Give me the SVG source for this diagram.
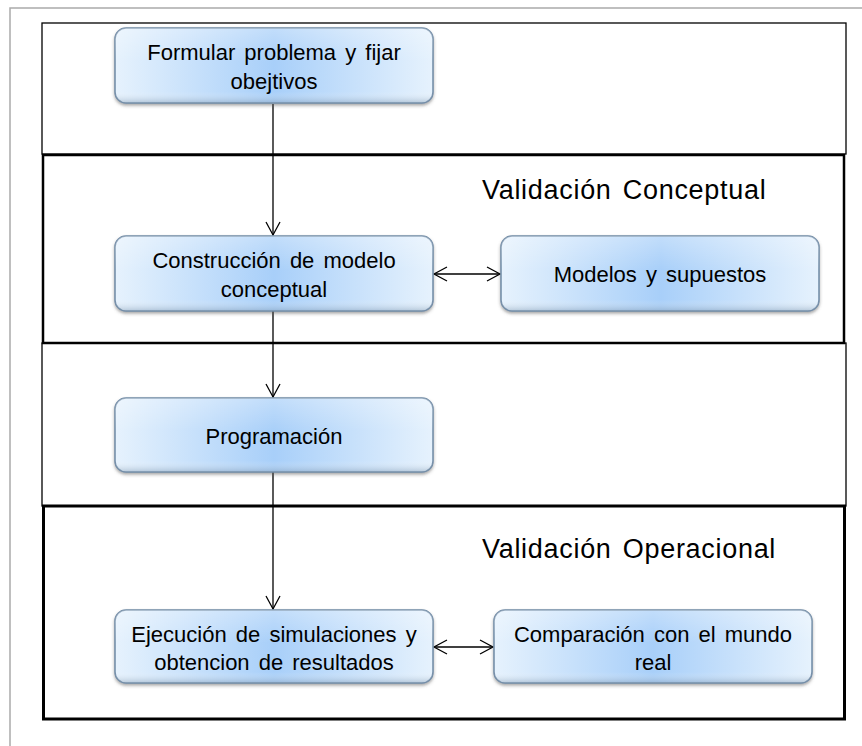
<svg xmlns="http://www.w3.org/2000/svg" width="862" height="746" viewBox="0 0 862 746">
<defs>
<linearGradient id="hg" x1="0" y1="0" x2="1" y2="0">
<stop offset="0" stop-color="#e6f2fd"/>
<stop offset="0.5" stop-color="#a8cff9"/>
<stop offset="1" stop-color="#e6f2fd"/>
</linearGradient>
<linearGradient id="vg" x1="0" y1="0" x2="0" y2="1">
<stop offset="0" stop-color="#ffffff" stop-opacity="0.3"/>
<stop offset="0.45" stop-color="#ffffff" stop-opacity="0"/>
<stop offset="0.85" stop-color="#ffffff" stop-opacity="0"/>
<stop offset="1" stop-color="#7d95ad" stop-opacity="0.45"/>
</linearGradient>
<filter id="sh" x="-5%" y="-10%" width="110%" height="130%">
<feDropShadow dx="0" dy="2" stdDeviation="1.5" flood-color="#555" flood-opacity="0.5"/>
</filter>
<marker id="ah" markerWidth="16" markerHeight="16" refX="14" refY="8" orient="auto-start-reverse" markerUnits="userSpaceOnUse">
<path d="M1,1 L14,8 L1,15" fill="none" stroke="#000" stroke-width="1.3"/>
</marker>
<style>
.frame{fill:none;stroke:#aaa;stroke-width:1.5}
.sec{fill:none;stroke:#000}
.box{fill:url(#hg);stroke:#6f8aa5;stroke-width:1.5;filter:url(#sh)}
.ov{fill:url(#vg);stroke:none}
.t{font-family:"Liberation Sans",Arial,sans-serif;font-size:22px;word-spacing:3px;fill:#000;text-anchor:middle}
.h{font-family:"Liberation Sans",Arial,sans-serif;font-size:27px;letter-spacing:0.7px;word-spacing:3px;fill:#000}
.c{fill:none;stroke:#000;stroke-width:1.3}
</style>
</defs>
<rect width="862" height="746" fill="#fff"/>
<path class="frame" d="M10,746 V8 H862"/>
<g id="sections">
<rect class="sec" x="42" y="23" width="804" height="131" stroke-width="1.3"/>
<rect class="sec" x="43" y="155" width="801" height="188" stroke-width="2.5"/>
<rect class="sec" x="42" y="343" width="804" height="163" stroke-width="1.3"/>
<rect class="sec" x="43.5" y="506" width="801" height="213" stroke-width="3"/>
<text class="h" x="482" y="199">Validación Conceptual</text>
<text class="h" x="482" y="558">Validación Operacional</text>
</g>
<g id="connectors">
<line class="c" x1="273" y1="104" x2="273" y2="235" marker-end="url(#ah)"/>
<line class="c" x1="273" y1="311" x2="273" y2="397" marker-end="url(#ah)"/>
<line class="c" x1="273" y1="472" x2="273" y2="609" marker-end="url(#ah)"/>
<line class="c" x1="434" y1="274" x2="500" y2="274" marker-start="url(#ah)" marker-end="url(#ah)"/>
<line class="c" x1="434" y1="647" x2="493" y2="647" marker-start="url(#ah)" marker-end="url(#ah)"/>
</g>
<g id="n1">
<rect class="box" x="115" y="28" width="318" height="75" rx="11"/>
<rect class="ov" x="115" y="28" width="318" height="75" rx="11"/>
<text class="t" x="274" y="60">Formular problema y fijar</text>
<text class="t" x="274" y="89">obejtivos</text>
</g>
<g id="n2">
<rect class="box" x="115" y="236" width="318" height="75" rx="11"/>
<rect class="ov" x="115" y="236" width="318" height="75" rx="11"/>
<text class="t" x="274" y="268">Construcción de modelo</text>
<text class="t" x="274" y="297">conceptual</text>
</g>
<g id="n3">
<rect class="box" x="501" y="236" width="318" height="75" rx="11"/>
<rect class="ov" x="501" y="236" width="318" height="75" rx="11"/>
<text class="t" x="660" y="282">Modelos y supuestos</text>
</g>
<g id="n4">
<rect class="box" x="115" y="398" width="318" height="74" rx="11"/>
<rect class="ov" x="115" y="398" width="318" height="74" rx="11"/>
<text class="t" x="274" y="444">Programación</text>
</g>
<g id="n5">
<rect class="box" x="115" y="610" width="318" height="73" rx="11"/>
<rect class="ov" x="115" y="610" width="318" height="73" rx="11"/>
<text class="t" x="274" y="642">Ejecución de simulaciones y</text>
<text class="t" x="274" y="670">obtencion de resultados</text>
</g>
<g id="n6">
<rect class="box" x="494" y="610" width="318" height="73" rx="11"/>
<rect class="ov" x="494" y="610" width="318" height="73" rx="11"/>
<text class="t" x="653" y="642">Comparación con el mundo</text>
<text class="t" x="653" y="670">real</text>
</g>
</svg>
